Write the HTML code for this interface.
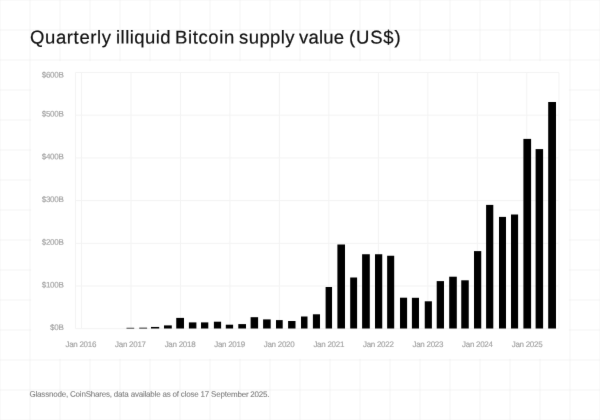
<!DOCTYPE html>
<html lang="en">
<head>
<meta charset="utf-8">
<title>Quarterly illiquid Bitcoin supply value (US$)</title>
<style>
html,body{margin:0;padding:0;background:#fff;}
body{width:600px;height:420px;overflow:hidden;position:relative;font-family:"Liberation Sans",sans-serif;}
#page{position:absolute;left:0;top:0;width:600px;height:420px;overflow:hidden;background:#fff;filter:url(#soft);}
#page svg{position:absolute;left:0;top:0;display:block;}
.t{position:absolute;white-space:nowrap;line-height:1;text-rendering:geometricPrecision;}
svg text{text-rendering:geometricPrecision;}
#title{left:29.9px;top:28px;font-size:18.5px;color:#111111;width:380px;height:19px;-webkit-text-stroke:0.2px #111111;}
#title span{position:absolute;top:0;transform-origin:0 0;transform:translate(0,0.5px) rotate(0.05deg);}
#foot{font-size:8px;letter-spacing:-0.2px;fill:#7a7a7a;stroke:#7a7a7a;stroke-width:0.08px;font-family:"Liberation Sans",sans-serif;}
.yl{font-size:8px;letter-spacing:-0.28px;fill:#a3a3a3;stroke:#a3a3a3;stroke-width:0.15px;text-anchor:end;font-family:"Liberation Sans",sans-serif;}
.xl{font-size:8px;letter-spacing:-0.28px;fill:#a3a3a3;stroke:#a3a3a3;stroke-width:0.15px;text-anchor:middle;font-family:"Liberation Sans",sans-serif;}
</style>
</head>
<body>
<svg width="0" height="0" style="position:absolute" aria-hidden="true"><defs>
<filter id="soft" x="0" y="0" width="600" height="420" filterUnits="userSpaceOnUse" color-interpolation-filters="sRGB"><feConvolveMatrix order="3 3" kernelMatrix="0.00391 0.05469 0.00391 0.05469 0.76562 0.05469 0.00391 0.05469 0.00391" edgeMode="duplicate" preserveAlpha="false"/></filter>
</defs></svg>
<div id="page">
<svg width="600" height="420" viewBox="0 0 600 420">
<rect x="0" y="0" width="600" height="420" fill="#ffffff"/>

<g stroke="#000000" stroke-opacity="0.04" stroke-width="1">
<line x1="0" y1="0" x2="0" y2="420"/>
<line x1="30" y1="0" x2="30" y2="420"/>
<line x1="60" y1="0" x2="60" y2="420"/>
<line x1="90" y1="0" x2="90" y2="420"/>
<line x1="120" y1="0" x2="120" y2="420"/>
<line x1="150" y1="0" x2="150" y2="420"/>
<line x1="180" y1="0" x2="180" y2="420"/>
<line x1="210" y1="0" x2="210" y2="420"/>
<line x1="240" y1="0" x2="240" y2="420"/>
<line x1="270" y1="0" x2="270" y2="420"/>
<line x1="300" y1="0" x2="300" y2="420"/>
<line x1="330" y1="0" x2="330" y2="420"/>
<line x1="360" y1="0" x2="360" y2="420"/>
<line x1="390" y1="0" x2="390" y2="420"/>
<line x1="420" y1="0" x2="420" y2="420"/>
<line x1="450" y1="0" x2="450" y2="420"/>
<line x1="480" y1="0" x2="480" y2="420"/>
<line x1="510" y1="0" x2="510" y2="420"/>
<line x1="540" y1="0" x2="540" y2="420"/>
<line x1="570" y1="0" x2="570" y2="420"/>
<line x1="600" y1="0" x2="600" y2="420"/>
<line x1="0" y1="0" x2="600" y2="0"/>
<line x1="0" y1="30" x2="600" y2="30"/>
<line x1="0" y1="60" x2="600" y2="60"/>
<line x1="0" y1="90" x2="600" y2="90"/>
<line x1="0" y1="120" x2="600" y2="120"/>
<line x1="0" y1="150" x2="600" y2="150"/>
<line x1="0" y1="180" x2="600" y2="180"/>
<line x1="0" y1="210" x2="600" y2="210"/>
<line x1="0" y1="240" x2="600" y2="240"/>
<line x1="0" y1="270" x2="600" y2="270"/>
<line x1="0" y1="300" x2="600" y2="300"/>
<line x1="0" y1="330" x2="600" y2="330"/>
<line x1="0" y1="360" x2="600" y2="360"/>
<line x1="0" y1="390" x2="600" y2="390"/>
<line x1="0" y1="420" x2="600" y2="420"/>
</g>
<rect x="31" y="61" width="538" height="298" fill="#ffffff"/>
<g stroke="#f3f3f3" stroke-width="1" fill="none">
<line x1="75.5" y1="328.70" x2="558.9" y2="328.70"/>
<line x1="75.5" y1="286.00" x2="558.9" y2="286.00"/>
<line x1="75.5" y1="243.30" x2="558.9" y2="243.30"/>
<line x1="75.5" y1="200.60" x2="558.9" y2="200.60"/>
<line x1="75.5" y1="157.90" x2="558.9" y2="157.90"/>
<line x1="75.5" y1="115.20" x2="558.9" y2="115.20"/>
<line x1="75.5" y1="72.50" x2="558.9" y2="72.50"/>
<line x1="81.50" y1="72.5" x2="81.50" y2="328.7"/>
<line x1="130.98" y1="72.5" x2="130.98" y2="328.7"/>
<line x1="180.46" y1="72.5" x2="180.46" y2="328.7"/>
<line x1="229.93" y1="72.5" x2="229.93" y2="328.7"/>
<line x1="279.41" y1="72.5" x2="279.41" y2="328.7"/>
<line x1="328.89" y1="72.5" x2="328.89" y2="328.7"/>
<line x1="378.37" y1="72.5" x2="378.37" y2="328.7"/>
<line x1="427.84" y1="72.5" x2="427.84" y2="328.7"/>
<line x1="477.32" y1="72.5" x2="477.32" y2="328.7"/>
<line x1="526.80" y1="72.5" x2="526.80" y2="328.7"/>
<line x1="75.5" y1="72.5" x2="75.5" y2="328.7"/>
<line x1="558.9" y1="72.5" x2="558.9" y2="328.7"/>
</g>
<g fill="#000000">
<rect x="126.50" y="327.80" width="7.70" height="0.70"/>
<rect x="139.20" y="327.70" width="7.90" height="0.80"/>
<rect x="151.00" y="326.95" width="8.20" height="1.55"/>
<rect x="164.00" y="325.40" width="7.80" height="3.10"/>
<rect x="176.25" y="317.90" width="7.75" height="10.60"/>
<rect x="188.90" y="322.40" width="7.50" height="6.10"/>
<rect x="201.00" y="322.40" width="7.30" height="6.10"/>
<rect x="213.90" y="321.70" width="7.20" height="6.80"/>
<rect x="225.80" y="324.70" width="7.30" height="3.80"/>
<rect x="238.30" y="324.10" width="7.70" height="4.40"/>
<rect x="250.60" y="317.20" width="7.50" height="11.30"/>
<rect x="263.10" y="319.40" width="7.60" height="9.10"/>
<rect x="276.00" y="320.10" width="6.70" height="8.40"/>
<rect x="288.10" y="321.00" width="7.40" height="7.50"/>
<rect x="301.00" y="316.50" width="6.50" height="12.00"/>
<rect x="312.90" y="314.30" width="7.10" height="14.20"/>
<rect x="325.60" y="287.00" width="6.45" height="41.50"/>
<rect x="337.40" y="244.50" width="7.60" height="84.00"/>
<rect x="350.20" y="277.50" width="6.90" height="51.00"/>
<rect x="362.10" y="254.25" width="7.70" height="74.25"/>
<rect x="375.00" y="254.25" width="7.25" height="74.25"/>
<rect x="387.15" y="255.75" width="7.05" height="72.75"/>
<rect x="400.00" y="297.70" width="7.10" height="30.80"/>
<rect x="411.90" y="297.80" width="7.10" height="30.70"/>
<rect x="424.75" y="301.30" width="7.15" height="27.20"/>
<rect x="436.70" y="281.10" width="7.30" height="47.40"/>
<rect x="449.20" y="276.70" width="7.60" height="51.80"/>
<rect x="461.25" y="280.30" width="7.50" height="48.20"/>
<rect x="474.00" y="251.10" width="7.25" height="77.40"/>
<rect x="486.10" y="204.90" width="7.20" height="123.60"/>
<rect x="499.00" y="216.90" width="7.00" height="111.60"/>
<rect x="511.00" y="214.50" width="7.10" height="114.00"/>
<rect x="523.40" y="138.90" width="7.70" height="189.60"/>
<rect x="535.60" y="149.10" width="7.50" height="179.40"/>
<rect x="548.20" y="102.00" width="7.80" height="226.50"/>
</g>
<text class="yl" transform="translate(63.50,330.10) rotate(0.05)">$0B</text>
<text class="yl" transform="translate(63.50,287.40) rotate(0.05)">$100B</text>
<text class="yl" transform="translate(63.50,244.70) rotate(0.05)">$200B</text>
<text class="yl" transform="translate(63.50,202.00) rotate(0.05)">$300B</text>
<text class="yl" transform="translate(63.50,159.30) rotate(0.05)">$400B</text>
<text class="yl" transform="translate(63.50,116.60) rotate(0.05)">$500B</text>
<text class="yl" transform="translate(63.50,77.50) rotate(0.05)">$600B</text>
<text class="xl" transform="translate(80.77,347.00) rotate(0.05)">Jan 2016</text>
<text class="xl" transform="translate(130.45,347.00) rotate(0.05)">Jan 2017</text>
<text class="xl" transform="translate(179.99,347.00) rotate(0.05)">Jan 2018</text>
<text class="xl" transform="translate(229.53,347.00) rotate(0.05)">Jan 2019</text>
<text class="xl" transform="translate(279.07,347.00) rotate(0.05)">Jan 2020</text>
<text class="xl" transform="translate(328.74,347.00) rotate(0.05)">Jan 2021</text>
<text class="xl" transform="translate(378.28,347.00) rotate(0.05)">Jan 2022</text>
<text class="xl" transform="translate(427.82,347.00) rotate(0.05)">Jan 2023</text>
<text class="xl" transform="translate(477.36,347.00) rotate(0.05)">Jan 2024</text>
<text class="xl" transform="translate(527.04,347.00) rotate(0.05)">Jan 2025</text>
<text id="foot" transform="translate(29.50,396.70) rotate(0.05)">Glassnode, CoinShares, data available as of close 17 September 2025.</text>
</svg>
<div class="t" id="title"><span style="left:-0.10px;letter-spacing:0.625px">Quarterly</span> <span style="left:85.75px;letter-spacing:0.464px">illiquid</span> <span style="left:145.47px;letter-spacing:0.631px">Bitcoin</span> <span style="left:209.04px;letter-spacing:0.425px">supply</span> <span style="left:269.43px;letter-spacing:0.214px">value</span> <span style="left:318.81px;letter-spacing:0.840px">(US$)</span></div>
</div>
</body>
</html>
